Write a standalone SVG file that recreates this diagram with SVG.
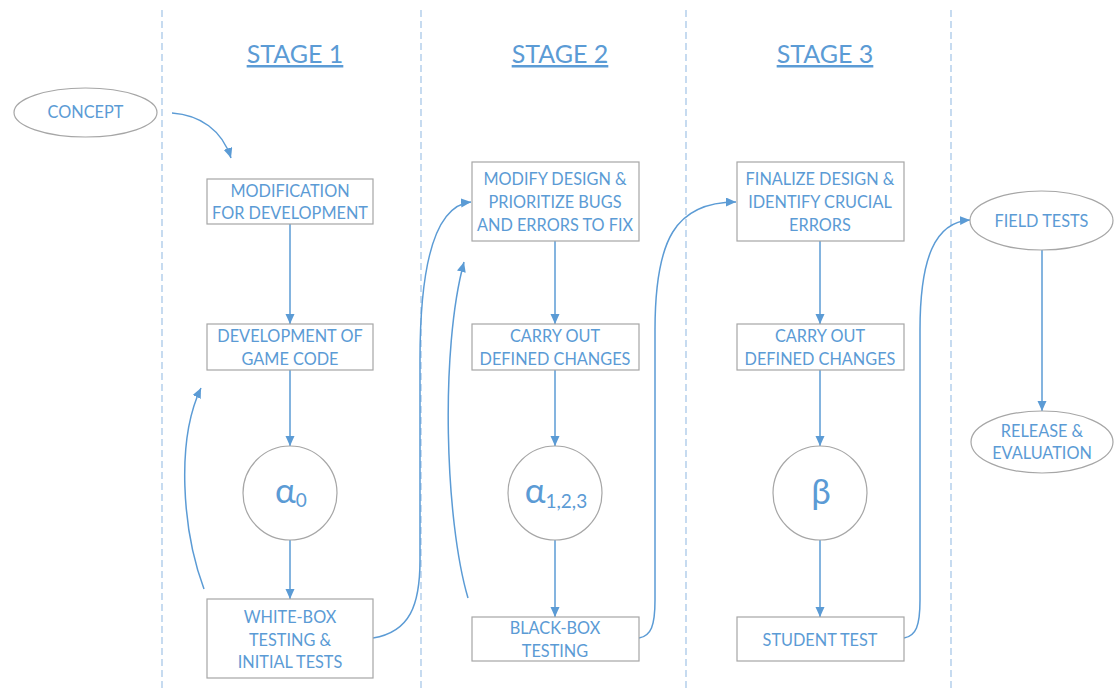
<svg xmlns="http://www.w3.org/2000/svg" width="1116" height="689" viewBox="0 0 1116 689">
  <style>
    .bg { fill: #ffffff; }
    .divider { stroke: #a9c8e8; stroke-width: 1.3; stroke-dasharray: 7 4; fill: none; }
    .node { fill: #ffffff; stroke: #a6a6a6; stroke-width: 1.2; }
    .label { font-family: Lato, "Liberation Sans", sans-serif; font-size: 16.3px; fill: #5b9bd5; text-anchor: middle; }
    .title { font-family: Lato, "Liberation Sans", sans-serif; font-size: 25px; fill: #5b9bd5; text-anchor: middle; text-decoration: underline; }
    .greek { font-family: Lato, "Liberation Sans", sans-serif; font-size: 35px; fill: #5b9bd5; text-anchor: middle; }
    .sub { font-size: 19px; }
    .flow { fill: none; stroke: #5b9bd5; stroke-width: 1.5; marker-end: url(#arrow); }
  </style>
  <defs>
    <marker id="arrow" markerUnits="userSpaceOnUse" markerWidth="11" markerHeight="10" refX="10" refY="4.5" orient="auto">
      <path d="M0,0 L10,4.5 L0,9 z" fill="#5b9bd5"/>
    </marker>
  </defs>

  <rect class="bg" x="0" y="0" width="1116" height="689"/>

  <!-- stage dividers -->
  <g id="dividers">
    <line class="divider" x1="162" y1="10" x2="162" y2="689"/>
    <line class="divider" x1="421" y1="10" x2="421" y2="689"/>
    <line class="divider" x1="686" y1="10" x2="686" y2="689"/>
    <line class="divider" x1="951" y1="10" x2="951" y2="689"/>
  </g>

  <!-- stage headings -->
  <g id="titles">
    <text class="title" x="295" y="63">STAGE 1</text>
    <text class="title" x="560" y="63">STAGE 2</text>
    <text class="title" x="825" y="63">STAGE 3</text>
  </g>

  <!-- connectors -->
  <g id="connectors">
    <path class="flow" d="M172,113 C200,115 222,130 231,158"/>
    <line class="flow" x1="290" y1="224" x2="290" y2="324"/>
    <line class="flow" x1="290" y1="370" x2="290" y2="446"/>
    <line class="flow" x1="290" y1="540" x2="290" y2="599"/>
    <path class="flow" d="M204,589 C182,530 176,440 201,388"/>
    <path class="flow" d="M373,638 C410,632 420,605 420,560 L420,360 C420,255 438,205 471,202"/>
    <line class="flow" x1="555" y1="241" x2="555" y2="324"/>
    <line class="flow" x1="555" y1="370" x2="555" y2="446"/>
    <line class="flow" x1="555" y1="539" x2="555" y2="617"/>
    <path class="flow" d="M468,598 C445,520 440,350 464,262"/>
    <path class="flow" d="M639,638 C651,636 655,626 655,600 L655,330 C655,240 675,202 736,202"/>
    <line class="flow" x1="820" y1="241" x2="820" y2="324"/>
    <line class="flow" x1="820" y1="370" x2="820" y2="446"/>
    <line class="flow" x1="820" y1="540" x2="820" y2="617"/>
    <path class="flow" d="M904,638 C916,636 920,626 920,600 L920,330 C920,258 935,222 970,220"/>
    <line class="flow" x1="1042" y1="250" x2="1042" y2="411"/>
  </g>

  <!-- entry -->
  <g id="concept">
    <ellipse class="node" cx="85.5" cy="112.5" rx="71.5" ry="24.5"/>
    <text class="label" x="85.5" y="118">CONCEPT</text>
  </g>

  <!-- stage 1 -->
  <g id="modification">
    <rect class="node" x="207" y="179" width="166" height="45"/>
    <text class="label" x="290" y="197">MODIFICATION</text>
    <text class="label" x="290" y="219">FOR DEVELOPMENT</text>
  </g>
  <g id="development">
    <rect class="node" x="207" y="324" width="166" height="46"/>
    <text class="label" x="290" y="342">DEVELOPMENT OF</text>
    <text class="label" x="290" y="365">GAME CODE</text>
  </g>
  <g id="alpha0">
    <circle class="node" cx="290" cy="493" r="47"/>
    <text class="greek" x="291" y="503">α<tspan class="sub" dy="3.5">0</tspan></text>
  </g>
  <g id="whitebox">
    <rect class="node" x="207" y="599" width="166" height="79"/>
    <text class="label" x="290" y="623">WHITE-BOX</text>
    <text class="label" x="290" y="646">TESTING &amp;</text>
    <text class="label" x="290" y="668">INITIAL TESTS</text>
  </g>

  <!-- stage 2 -->
  <g id="modify-design">
    <rect class="node" x="472" y="162" width="167" height="79"/>
    <text class="label" x="555" y="185">MODIFY DESIGN &amp;</text>
    <text class="label" x="555" y="208">PRIORITIZE BUGS</text>
    <text class="label" x="555" y="231">AND ERRORS TO FIX</text>
  </g>
  <g id="changes2">
    <rect class="node" x="472" y="324" width="167" height="46"/>
    <text class="label" x="555" y="342">CARRY OUT</text>
    <text class="label" x="555" y="365">DEFINED CHANGES</text>
  </g>
  <g id="alpha123">
    <circle class="node" cx="555" cy="493" r="47"/>
    <text class="greek" x="556" y="503">α<tspan class="sub" dy="5">1,2,3</tspan></text>
  </g>
  <g id="blackbox">
    <rect class="node" x="472" y="617" width="167" height="44"/>
    <text class="label" x="555" y="634">BLACK-BOX</text>
    <text class="label" x="555" y="657">TESTING</text>
  </g>

  <!-- stage 3 -->
  <g id="finalize">
    <rect class="node" x="737" y="162" width="167" height="79"/>
    <text class="label" x="820" y="185">FINALIZE DESIGN &amp;</text>
    <text class="label" x="820" y="208">IDENTIFY CRUCIAL</text>
    <text class="label" x="820" y="231">ERRORS</text>
  </g>
  <g id="changes3">
    <rect class="node" x="737" y="324" width="167" height="46"/>
    <text class="label" x="820" y="342">CARRY OUT</text>
    <text class="label" x="820" y="365">DEFINED CHANGES</text>
  </g>
  <g id="beta">
    <circle class="node" cx="820" cy="493" r="47"/>
    <text class="greek" x="821" y="504">β</text>
  </g>
  <g id="student-test">
    <rect class="node" x="737" y="617" width="167" height="44"/>
    <text class="label" x="820" y="646">STUDENT TEST</text>
  </g>

  <!-- release -->
  <g id="field-tests">
    <ellipse class="node" cx="1041.5" cy="220.5" rx="71.5" ry="29.5"/>
    <text class="label" x="1041.5" y="227">FIELD TESTS</text>
  </g>
  <g id="release">
    <ellipse class="node" cx="1042" cy="442" rx="71" ry="31"/>
    <text class="label" x="1042" y="437">RELEASE &amp;</text>
    <text class="label" x="1042" y="459">EVALUATION</text>
  </g>
</svg>
